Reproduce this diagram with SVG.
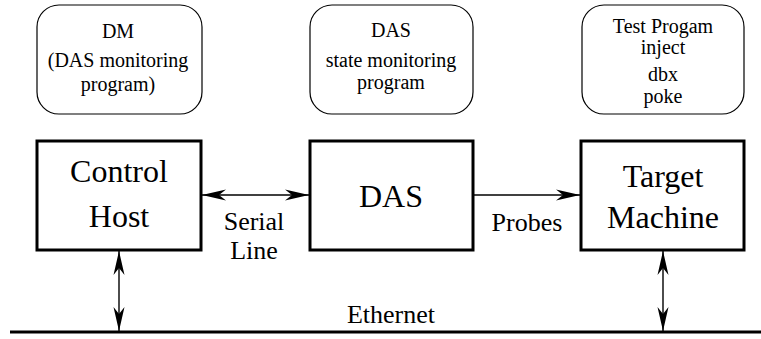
<svg xmlns="http://www.w3.org/2000/svg" width="761" height="339" viewBox="0 0 761 339">
  <style>
    text { font-family: "Liberation Serif", "Times New Roman", serif; fill: #000; text-anchor: middle; }
    .prog { fill: #fff; stroke: #000; stroke-width: 1.2; }
    .unit { fill: #fff; stroke: #000; stroke-width: 3; }
    .small { font-size: 20px; }
    .big { font-size: 32px; }
    .label { font-size: 26px; }
    .link { stroke: #000; stroke-width: 1.4; fill: none; }
    .bus { stroke: #000; stroke-width: 3; }
  </style>
  <defs>
    <!-- filled arrowhead with a notched back, used at both ends where needed -->
    <marker id="head" viewBox="-24 -6 25 12" refX="0" refY="0" markerWidth="25" markerHeight="12" markerUnits="userSpaceOnUse" orient="auto-start-reverse">
      <path d="M0,0 L-24,-5.5 L-17,0 L-24,5.5 Z" fill="#000"/>
    </marker>
  </defs>

  <rect width="761" height="339" fill="#fff"/>

  <!-- software running on each machine -->
  <g id="dm">
    <rect class="prog" x="37" y="5" width="165" height="109" rx="22"/>
    <text class="small" x="118" y="38">DM</text>
    <text class="small" x="118" y="67">(DAS monitoring</text>
    <text class="small" x="118" y="91">program)</text>
  </g>
  <g id="das-monitor">
    <rect class="prog" x="310" y="5" width="163" height="109" rx="22"/>
    <text class="small" x="391" y="37">DAS</text>
    <text class="small" x="391" y="67">state monitoring</text>
    <text class="small" x="391" y="89">program</text>
  </g>
  <g id="test-program">
    <rect class="prog" x="582" y="5" width="162" height="109" rx="22"/>
    <text class="small" x="663" y="33">Test Progam</text>
    <text class="small" x="663" y="54">inject</text>
    <text class="small" x="663" y="81">dbx</text>
    <text class="small" x="663" y="103">poke</text>
  </g>

  <!-- hardware units -->
  <g id="control-host">
    <rect class="unit" x="37" y="141" width="164" height="109"/>
    <text class="big" x="119" y="182">Control</text>
    <text class="big" x="119" y="227">Host</text>
  </g>
  <g id="das">
    <rect class="unit" x="310" y="141" width="163" height="109"/>
    <text class="big" x="391" y="207">DAS</text>
  </g>
  <g id="target-machine">
    <rect class="unit" x="581" y="141" width="163" height="109"/>
    <text class="big" x="663" y="187">Target</text>
    <text class="big" x="663" y="228">Machine</text>
  </g>

  <!-- links between the units and the shared Ethernet bus -->
  <g id="connectors">
    <line class="bus" x1="10" y1="332" x2="761" y2="332"/>
    <line class="link" x1="202" y1="195" x2="309" y2="195" marker-start="url(#head)" marker-end="url(#head)"/>
    <line class="link" x1="474" y1="195" x2="580" y2="195" marker-end="url(#head)"/>
    <line class="link" x1="119" y1="251" x2="119" y2="331" marker-start="url(#head)" marker-end="url(#head)"/>
    <line class="link" x1="663" y1="251" x2="663" y2="331" marker-start="url(#head)" marker-end="url(#head)"/>
    <text class="label" x="254" y="230">Serial</text>
    <text class="label" x="254" y="259">Line</text>
    <text class="label" x="527" y="231">Probes</text>
    <text class="label" x="391" y="323">Ethernet</text>
  </g>
</svg>
